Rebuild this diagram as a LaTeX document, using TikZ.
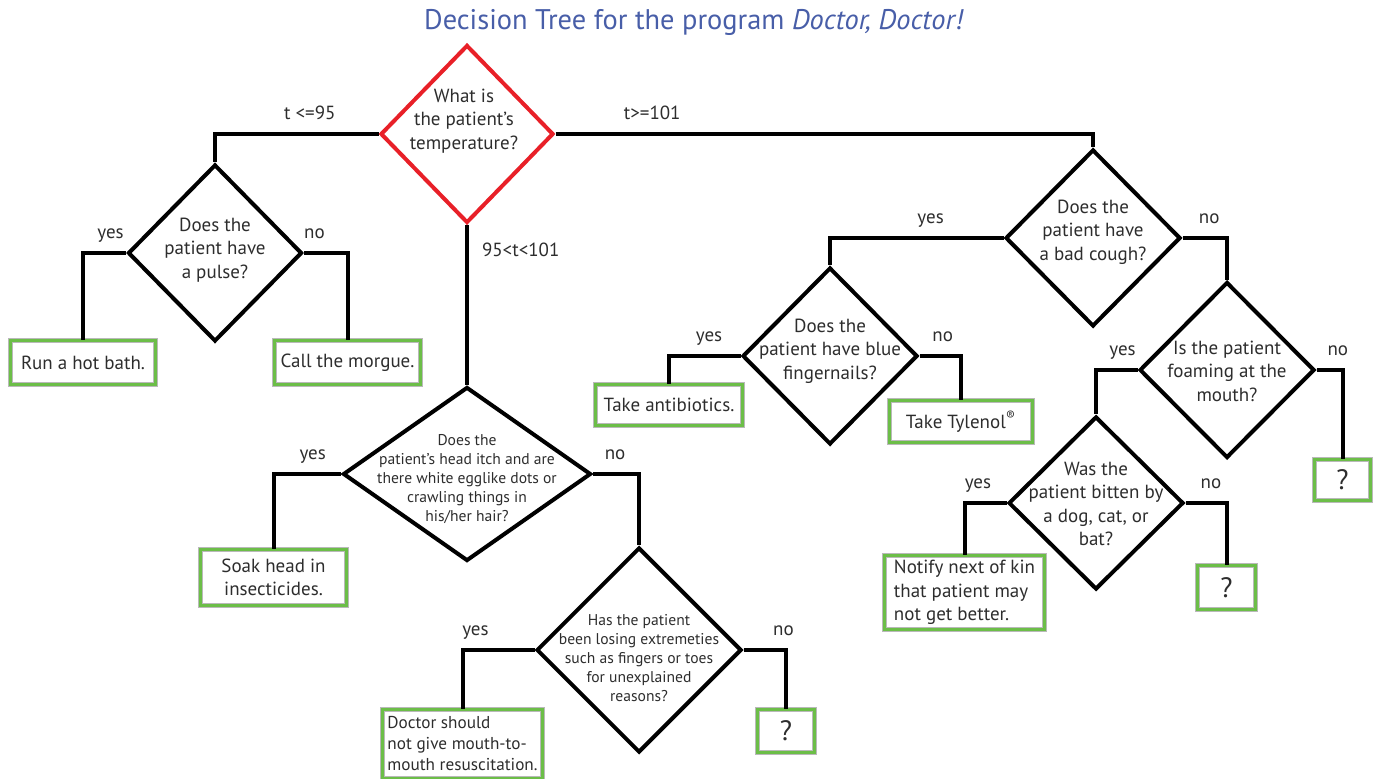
\documentclass[tikz,border=0pt]{standalone}
\usepackage{fontspec}
\setmainfont{PT Sans}
\usetikzlibrary{shapes.geometric}
\definecolor{titleblue}{RGB}{72,94,168}
\definecolor{treered}{RGB}{232,32,40}
\definecolor{boxgreen}{RGB}{108,190,72}
\definecolor{inkgray}{RGB}{45,45,45}

\begin{document}
\begin{tikzpicture}[x=0.5pt,y=-0.5pt,
  quest/.style={diamond,draw=black,line width=2pt,inner sep=0pt},
  qtext/.style={align=center,text=inkgray,font=\fontsize{9.5}{11.8}\selectfont,inner sep=0pt},
  smallq/.style={qtext,font=\fontsize{7.8}{9.6}\selectfont},
  answer/.style={rectangle,draw=gray!55,line width=0.4pt,double=boxgreen,double distance=1.8pt,
    text=inkgray,font=\fontsize{9.5}{11.8}\selectfont,align=center,inner sep=1pt},
  unknown/.style={answer,font=\fontsize{14}{16}\selectfont},
  link/.style={line width=2pt},
  lab/.style={font=\fontsize{9.5}{11.8}\selectfont,text=inkgray,anchor=base,yshift=7pt,inner sep=0pt}]
\useasboundingbox (0,0) rectangle (1375,779);

\node[font=\fontsize{14.2}{16}\selectfont,text=titleblue] (title) at (694,22)
  {Decision Tree for the program \textit{Doctor, Doctor!}};

% questions
\node[quest,draw=treered,minimum width=86.5pt,minimum height=89pt] (temp) at (467,134) {};
\node[qtext] (tempq) at (464,121) {What is\\the patient’s\\temperature?};
\node[quest,minimum width=87pt,minimum height=88.5pt] (pulse) at (215,253) {};
\node[qtext] (pulseq) at (215,250) {Does the\\patient have\\a pulse?};
\node[quest,minimum width=124pt,minimum height=87pt] (lice) at (467,474) {};
\node[smallq] (liceq) at (467,479) {Does the\\patient’s head itch and are\\there white egglike dots or\\crawling things in\\his/her hair?};
\node[quest,minimum width=102.5pt,minimum height=102.5pt] (limbs) at (639,650) {};
\node[smallq] (limbsq) at (639,658) {Has the patient\\been losing extremeties\\such as fingers or toes\\for unexplained\\reasons?};
\node[quest,minimum width=87.5pt,minimum height=88.5pt] (cough) at (1093,238) {};
\node[qtext] (coughq) at (1093,232) {Does the\\patient have\\a bad cough?};
\node[quest,minimum width=87.5pt,minimum height=88.5pt] (nails) at (830,356) {};
\node[qtext] (nailsq) at (830,351) {Does the\\patient have blue\\fingernails?};
\node[quest,minimum width=87.5pt,minimum height=88pt] (foam) at (1227,370) {};
\node[qtext] (foamq) at (1227,371) {Is the patient\\foaming at the\\mouth?};
\node[quest,minimum width=87.5pt,minimum height=86.5pt] (bite) at (1096,503) {};
\node[qtext] (biteq) at (1096,504) {Was the\\patient bitten by\\a dog, cat, or\\bat?};

% answers
\node[answer,minimum width=72.5pt,minimum height=22pt] (bath) at (83,362.5) {Run a hot bath.};
\node[answer,minimum width=73pt,minimum height=22pt] (morgue) at (347.5,362.5) {Call the morgue.};
\node[answer,minimum width=73pt,minimum height=28pt] (soak) at (273.5,577.5) {Soak head in\\insecticides.};
\node[answer,minimum width=80pt,minimum height=34.5pt,align=left,
  font=\fontsize{8.6}{10.5}\selectfont] (nomouth) at (462.5,744) {Doctor should\\not give mouth-to-\\mouth resuscitation.};
\node[unknown,minimum width=28.5pt,minimum height=21.5pt] (limbsno) at (786,731) {?};
\node[answer,minimum width=73.5pt,minimum height=20.5pt] (pills) at (669,405) {Take antibiotics.};
\node[answer,minimum width=71.5pt,minimum height=21pt] (tylenol) at (961,421.5) {Take Tylenol\textsuperscript{®}};
\node[unknown,minimum width=28pt,minimum height=20.5pt] (foamno) at (1342.5,480) {?};
\node[answer,minimum width=80pt,minimum height=37pt,align=left] (kin) at (964.5,592.5) {Notify next of kin\\that patient may\\not get better.};
\node[unknown,minimum width=29pt,minimum height=22pt] (biteno) at (1226.5,587.5) {?};

% branches
\draw[link] (temp.west) -| node[lab,pos=.21] (lowt) {t <=95} (pulse.north);
\draw[link] (temp.east) -| node[lab,pos=.09] (hight) {t>=101} (cough.north);
\draw[link] (temp.south) -- node[lab,pos=.24,anchor=west,yshift=0pt,xshift=6.5pt] (midt) {95<t<101} (lice.north);
\draw[link] (pulse.west) -| node[lab,pos=.18] (pulseyes) {yes} (bath.north);
\draw[link] (pulse.east) -| node[lab,pos=.12] (pulseno) {no} (morgue.north);
\draw[link] (lice.west) -| node[lab,pos=.21] (liceyes) {yes} (soak.north);
\draw[link] (lice.east) -| node[lab,pos=.24] (liceno) {no} (limbs.north);
\draw[link] (limbs.west) -| node[lab,pos=.41] (limbsyes) {yes} (nomouth.north);
\draw[link] (limbs.east) -| node[lab,pos=.47] (limbsnolab) {no} (limbsno.north);
\draw[link] (cough.west) -| node[lab,pos=.21] (coughyes) {yes} (nails.north);
\draw[link] (cough.east) -| node[lab,pos=.3] (coughno) {no} (foam.north);
\draw[link] (nails.west) -| node[lab,pos=.22] (nailsyes) {yes} (pills.north);
\draw[link] (nails.east) -| node[lab,pos=.28] (nailsno) {no} (tylenol.north);
\draw[link] (foam.west) -| node[lab,pos=.18] (foamyes) {yes} (bite.north);
\draw[link] (foam.east) -| node[lab,pos=.41] (foamnolab) {no} (foamno.north);
\draw[link] (bite.west) -| node[lab,pos=.34] (biteyes) {yes} (kin.north);
\draw[link] (bite.east) -| node[lab,pos=.31] (bitenolab) {no} (biteno.north);
\end{tikzpicture}
\end{document}
